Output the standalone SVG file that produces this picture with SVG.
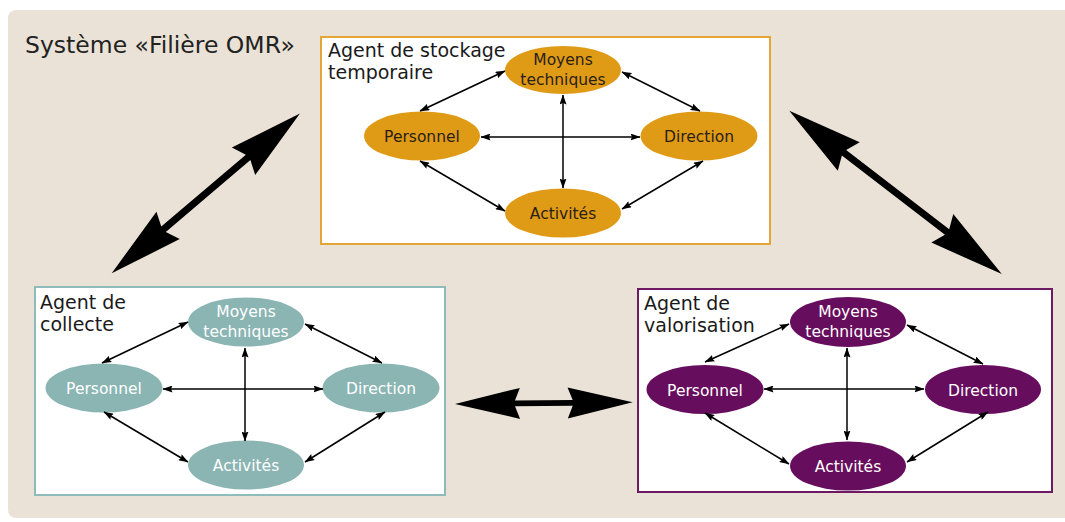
<svg xmlns="http://www.w3.org/2000/svg" width="1065" height="522" viewBox="0 0 1065 522">
<style>
text{font-family:"DejaVu Sans","Noto Sans",sans-serif;}
.title{font-size:23.5px;fill:#222;}
.lbl{font-size:19px;fill:#1a1a1a;}
.nt{font-size:15.5px;text-anchor:middle;}
.dk{fill:#2a2116;}
.wt{fill:#ffffff;}
.box{fill:#ffffff;stroke-width:2;}
.or{fill:#e09b16;}
.te{fill:#8ab5b3;}
.pu{fill:#670d5d;}
.ln{stroke:#000;stroke-width:1.5;fill:none;marker-start:url(#ah);marker-end:url(#ah);}
.big{fill:#000;}
</style>
<defs>
<marker id="ah" viewBox="0 0 10 7" refX="9.5" refY="3.5" markerWidth="10" markerHeight="7" markerUnits="userSpaceOnUse" orient="auto-start-reverse">
<path d="M0,0 L10,3.5 L0,7 L1.5,3.5 z" fill="#000"/>
</marker>
</defs>
<rect x="8" y="10" width="1080" height="508" rx="8" fill="#eae2d6"/>
<text class="title" x="25" y="53">Système «Filière OMR»</text>

<g id="agent-stockage">
<rect class="box" x="321" y="37" width="449" height="207" stroke="#e3a535"/>
<text class="lbl" x="328" y="57">Agent de stockage</text>
<text class="lbl" x="328" y="79">temporaire</text>
</g>
<g id="agent-collecte">
<rect class="box" x="35" y="287" width="410" height="208" stroke="#8dbcba"/>
<text class="lbl" x="40" y="309">Agent de</text>
<text class="lbl" x="40" y="331">collecte</text>
</g>
<g id="agent-valorisation">
<rect class="box" x="638" y="289" width="414" height="203" stroke="#6d1a63"/>
<text class="lbl" x="644" y="310">Agent de</text>
<text class="lbl" x="644" y="332">valorisation</text>
</g>

<g id="s-moyens"><ellipse class="or" cx="563" cy="70" rx="58" ry="24"/><text class="nt dk" x="563" y="65">Moyens</text><text class="nt dk" x="563" y="84.5">techniques</text></g>
<g id="s-personnel"><ellipse class="or" cx="422" cy="136" rx="58" ry="24.5"/><text class="nt dk" x="422" y="142">Personnel</text></g>
<g id="s-direction"><ellipse class="or" cx="699" cy="136" rx="58.5" ry="24.5"/><text class="nt dk" x="699" y="142">Direction</text></g>
<g id="s-activites"><ellipse class="or" cx="563" cy="213" rx="58" ry="24.5"/><text class="nt dk" x="563" y="219">Activités</text></g>

<g id="c-moyens"><ellipse class="te" cx="246" cy="322" rx="58" ry="24.5"/><text class="nt wt" x="246" y="317">Moyens</text><text class="nt wt" x="246" y="336.5">techniques</text></g>
<g id="c-personnel"><ellipse class="te" cx="104" cy="388" rx="58.5" ry="24.5"/><text class="nt wt" x="104" y="394">Personnel</text></g>
<g id="c-direction"><ellipse class="te" cx="381" cy="388" rx="58.5" ry="24.5"/><text class="nt wt" x="381" y="394">Direction</text></g>
<g id="c-activites"><ellipse class="te" cx="246" cy="465" rx="58" ry="24.5"/><text class="nt wt" x="246" y="471">Activités</text></g>

<g id="v-moyens"><ellipse class="pu" cx="848" cy="322" rx="58" ry="25"/><text class="nt wt" x="848" y="317">Moyens</text><text class="nt wt" x="848" y="336.5">techniques</text></g>
<g id="v-personnel"><ellipse class="pu" cx="705" cy="389.5" rx="58.5" ry="24.5"/><text class="nt wt" x="705" y="395.5">Personnel</text></g>
<g id="v-direction"><ellipse class="pu" cx="983" cy="389.5" rx="58" ry="24.5"/><text class="nt wt" x="983" y="395.5">Direction</text></g>
<g id="v-activites"><ellipse class="pu" cx="848" cy="466" rx="58" ry="24.5"/><text class="nt wt" x="848" y="472">Activités</text></g>

<g id="connectors">
<line class="ln" x1="420" y1="111" x2="505" y2="71"/>
<line class="ln" x1="622" y1="72" x2="700" y2="111"/>
<line class="ln" x1="420" y1="161" x2="505" y2="211"/>
<line class="ln" x1="703" y1="161" x2="622" y2="209"/>
<line class="ln" x1="481" y1="137" x2="640" y2="137"/>
<line class="ln" x1="563" y1="95" x2="563" y2="188"/>

<line class="ln" x1="102" y1="363" x2="188" y2="322"/>
<line class="ln" x1="305" y1="324" x2="382" y2="363"/>
<line class="ln" x1="163" y1="389" x2="323" y2="389"/>
<line class="ln" x1="245" y1="348" x2="245" y2="441"/>
<line class="ln" x1="104" y1="412" x2="188" y2="462"/>
<line class="ln" x1="385" y1="412" x2="305" y2="462"/>

<line class="ln" x1="705" y1="362" x2="789" y2="324"/>
<line class="ln" x1="907" y1="325" x2="983" y2="364"/>
<line class="ln" x1="764" y1="389" x2="924" y2="389"/>
<line class="ln" x1="847" y1="348" x2="847" y2="440"/>
<line class="ln" x1="705" y1="413" x2="789" y2="464"/>
<line class="ln" x1="988" y1="412" x2="907" y2="462"/>

<path class="big" transform="translate(111.7,273.3) rotate(-40.35)" d="M0,0 L74,-18 L68,-3.5 L179,-3.5 L173,-18 L247,0 L173,18 L179,3.5 L68,3.5 L74,18 z"/>
<path class="big" transform="translate(789.3,110.7) rotate(37.55)" d="M0,0 L75,-18 L69,-3.5 L199,-3.5 L193,-18 L268,0 L193,18 L199,3.5 L69,3.5 L75,18 z"/>
<path class="big" transform="translate(455,404) rotate(-0.55)" d="M0,0 L65,-15.5 L60,-2.8 L117.7,-2.8 L112.7,-15.5 L177.7,0 L112.7,15.5 L117.7,2.8 L60,2.8 L65,15.5 z"/>
</g>
</svg>
